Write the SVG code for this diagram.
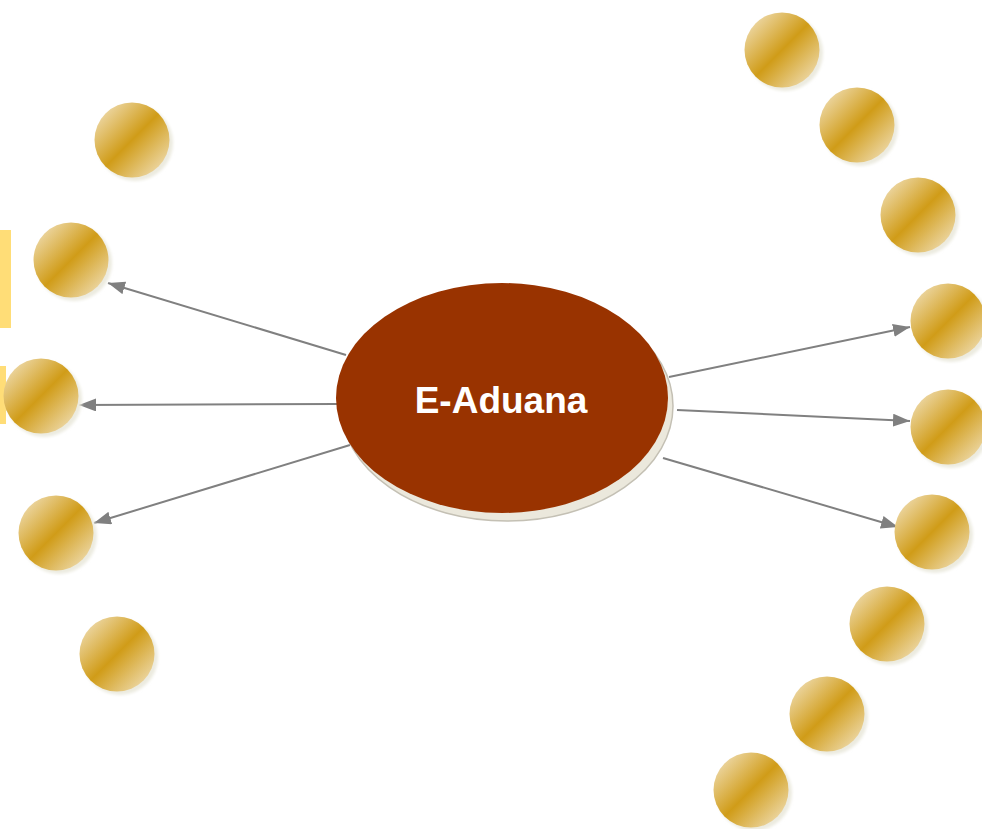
<svg xmlns="http://www.w3.org/2000/svg" width="982" height="829" viewBox="0 0 982 829">
<defs>
<linearGradient id="gold" x1="0" y1="0" x2="1" y2="1">
<stop offset="0" stop-color="#f5e8cc"/>
<stop offset="0.5" stop-color="#d09c18"/>
<stop offset="1" stop-color="#f5e8cc"/>
</linearGradient>
<filter id="blur" x="-20%" y="-20%" width="140%" height="140%"><feGaussianBlur stdDeviation="1.5"/></filter>
<marker id="arr" viewBox="0 0 17 13" refX="17" refY="6.5" markerWidth="17" markerHeight="13" markerUnits="userSpaceOnUse" orient="auto">
<path d="M0,0 L17,6.5 L0,13 Z" fill="#808080"/>
</marker>
<g id="ball">
<circle cx="3" cy="3" r="38" fill="#ecebe0" filter="url(#blur)"/>
<circle cx="0" cy="0" r="37.5" fill="url(#gold)"/>
</g>
</defs>
<style>
.c{stroke:#808080;stroke-width:2;fill:none;marker-end:url(#arr)}
.lbl{font-family:"Liberation Sans",Arial,sans-serif;font-weight:bold;font-size:37px;fill:#ffffff}
</style>
<rect width="982" height="829" fill="#ffffff"/>
<rect id="bar1" x="0" y="230" width="11" height="98" fill="#ffdd77"/>
<rect id="bar2" x="0" y="366" width="6" height="58" fill="#ffdd77"/>
<g id="connectors">
<line class="c" x1="346" y1="355" x2="108" y2="283"/>
<line class="c" x1="337" y1="404" x2="79" y2="405"/>
<line class="c" x1="350" y1="445" x2="94" y2="523"/>
<line class="c" x1="669" y1="377" x2="910" y2="327"/>
<line class="c" x1="677" y1="410" x2="910" y2="421"/>
<line class="c" x1="663" y1="458" x2="898" y2="527"/>
</g>
<g id="left1"><use href="#ball" x="132" y="140"/></g>
<g id="left2"><use href="#ball" x="71" y="260"/></g>
<g id="left3"><use href="#ball" x="41" y="396"/></g>
<g id="left4"><use href="#ball" x="56" y="533"/></g>
<g id="left5"><use href="#ball" x="117" y="654"/></g>
<g id="right1"><use href="#ball" x="782" y="50"/></g>
<g id="right2"><use href="#ball" x="857" y="125"/></g>
<g id="right3"><use href="#ball" x="918" y="215"/></g>
<g id="right4"><use href="#ball" x="948" y="321"/></g>
<g id="right5"><use href="#ball" x="948" y="427"/></g>
<g id="right6"><use href="#ball" x="932" y="532"/></g>
<g id="right7"><use href="#ball" x="887" y="624"/></g>
<g id="right8"><use href="#ball" x="827" y="714"/></g>
<g id="right9"><use href="#ball" x="751" y="790"/></g>
<g id="center">
<ellipse cx="507" cy="406" rx="166" ry="115" fill="#ebe8dc" stroke="#c4c0b4" stroke-width="1.5"/>
<ellipse cx="502" cy="398" rx="166" ry="115" fill="#993300"/>
<text class="lbl" x="501" y="413" text-anchor="middle">E-Aduana</text>
</g>
</svg>
